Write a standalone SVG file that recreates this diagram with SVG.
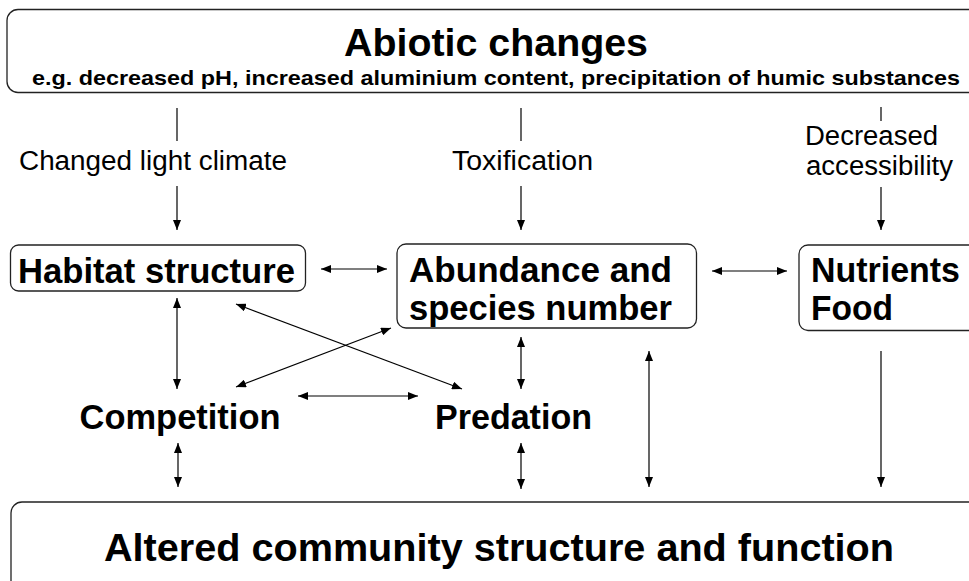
<svg xmlns="http://www.w3.org/2000/svg" width="969" height="581" viewBox="0 0 969 581">
<style>
.box{fill:#fff;stroke:#222;stroke-width:1.3}
.big{font-family:"Liberation Sans",Arial,sans-serif;font-weight:bold;fill:#000}
.lbl{font-family:"Liberation Sans",Arial,sans-serif;fill:#000;font-size:27px}
.c line{stroke:#000;stroke-width:1.2}
</style>
<defs>
<marker id="ah" viewBox="0 0 10 8" refX="10" refY="4" markerWidth="10" markerHeight="8" markerUnits="userSpaceOnUse" orient="auto-start-reverse">
<path d="M0,0 L10,4 L0,8 z" fill="#000"/>
</marker>
</defs>
<rect width="969" height="581" fill="#fff"/>
<g id="abiotic">
<rect class="box" x="7" y="9.5" width="990" height="83" rx="11"/>
<text class="big" x="344" y="56" font-size="39" textLength="304" lengthAdjust="spacingAndGlyphs">Abiotic changes</text>
<text class="big" x="32" y="85" font-size="21" textLength="928" lengthAdjust="spacingAndGlyphs">e.g. decreased pH, increased aluminium content, precipitation of humic substances</text>
</g>
<g id="habitat">
<rect class="box" x="10.5" y="245" width="295" height="46" rx="8"/>
<text class="big" x="18" y="283" font-size="35" textLength="277" lengthAdjust="spacingAndGlyphs">Habitat structure</text>
</g>
<g id="abundance">
<rect class="box" x="397" y="244" width="299.5" height="84" rx="9"/>
<text class="big" x="409" y="282" font-size="35" textLength="263" lengthAdjust="spacingAndGlyphs">Abundance and</text>
<text class="big" x="409" y="320" font-size="35" textLength="263" lengthAdjust="spacingAndGlyphs">species number</text>
</g>
<g id="nutrients">
<rect class="box" x="799" y="245" width="200" height="85.5" rx="9"/>
<text class="big" x="811" y="282" font-size="35" textLength="149" lengthAdjust="spacingAndGlyphs">Nutrients</text>
<text class="big" x="811" y="320" font-size="35" textLength="82" lengthAdjust="spacingAndGlyphs">Food</text>
</g>
<g id="competition">
<text class="big" x="79.5" y="429" font-size="35" textLength="201" lengthAdjust="spacingAndGlyphs">Competition</text>
</g>
<g id="predation">
<text class="big" x="435" y="429" font-size="35" textLength="157" lengthAdjust="spacingAndGlyphs">Predation</text>
</g>
<g id="community">
<rect class="box" x="11" y="502" width="990" height="110" rx="11"/>
<text class="big" x="104" y="561" font-size="39" textLength="790" lengthAdjust="spacingAndGlyphs">Altered community structure and function</text>
</g>
<g id="labels">
<text class="lbl" x="19" y="170" textLength="268" lengthAdjust="spacingAndGlyphs">Changed light climate</text>
<text class="lbl" x="452" y="170" textLength="141" lengthAdjust="spacingAndGlyphs">Toxification</text>
<text class="lbl" x="805" y="145" textLength="133" lengthAdjust="spacingAndGlyphs">Decreased</text>
<text class="lbl" x="806" y="175" textLength="147" lengthAdjust="spacingAndGlyphs">accessibility</text>
</g>
<g id="connectors" class="c">
<line x1="177" y1="108" x2="177" y2="141"/>
<line x1="177" y1="186" x2="177" y2="230" marker-end="url(#ah)"/>
<line x1="521" y1="108" x2="521" y2="141"/>
<line x1="521" y1="186" x2="521" y2="230" marker-end="url(#ah)"/>
<line x1="881" y1="107" x2="881" y2="121"/>
<line x1="881" y1="187" x2="881" y2="230" marker-end="url(#ah)"/>
<line x1="321" y1="269" x2="387" y2="269" marker-start="url(#ah)" marker-end="url(#ah)"/>
<line x1="712" y1="271" x2="787" y2="271" marker-start="url(#ah)" marker-end="url(#ah)"/>
<line x1="177" y1="298" x2="177" y2="389" marker-start="url(#ah)" marker-end="url(#ah)"/>
<line x1="236" y1="304" x2="462" y2="389" marker-start="url(#ah)" marker-end="url(#ah)"/>
<line x1="391" y1="328" x2="236" y2="387" marker-start="url(#ah)" marker-end="url(#ah)"/>
<line x1="298" y1="396" x2="418" y2="396" marker-start="url(#ah)" marker-end="url(#ah)"/>
<line x1="521" y1="337" x2="521" y2="389" marker-start="url(#ah)" marker-end="url(#ah)"/>
<line x1="649" y1="351" x2="649" y2="487" marker-start="url(#ah)" marker-end="url(#ah)"/>
<line x1="881" y1="351" x2="881" y2="487" marker-end="url(#ah)"/>
<line x1="178" y1="443" x2="178" y2="487" marker-start="url(#ah)" marker-end="url(#ah)"/>
<line x1="521" y1="443" x2="521" y2="489" marker-start="url(#ah)" marker-end="url(#ah)"/>
</g>
</svg>
